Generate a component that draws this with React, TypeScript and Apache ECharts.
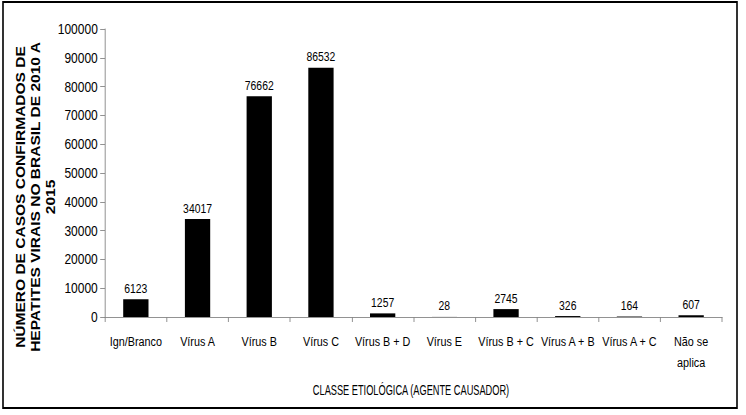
import React, { useEffect, useRef } from "react";
import * as echarts from "echarts";

const categories = [
  "Ign/Branco",
  "Vírus A",
  "Vírus B",
  "Vírus C",
  "Vírus B + D",
  "Vírus E",
  "Vírus B + C",
  "Vírus A + B",
  "Vírus A + C",
  "Não se\naplica",
];
const casos = [6123, 34017, 76662, 86532, 1257, 28, 2745, 326, 164, 607];
const yTitle = "NÚMERO DE CASOS CONFIRMADOS DE\nHEPATITES VIRAIS NO BRASIL DE 2010 A\n2015";
const xTitle = "CLASSE ETIOLÓGICA (AGENTE CAUSADOR)";

const FONT = "'Liberation Sans', Arial, sans-serif";
// horizontal condensing of the whole drawing (the reference uses a narrow face)
const SX = 0.8;
const W = 746 / SX;
const H = 415;

export default function App() {
  const ref = useRef<HTMLDivElement>(null);
  useEffect(() => {
    if (!ref.current) return;
    const chart = echarts.init(ref.current, null, { renderer: "svg", width: W, height: H });
    chart.setOption({
      animation: false,
      backgroundColor: "#ffffff",
      grid: { left: 105 / SX, right: 24 / SX, top: 29, bottom: 98, containLabel: false },
      xAxis: {
        type: "category",
        data: categories,
        axisLine: { show: true, lineStyle: { color: "#868686", width: 1 } },
        axisTick: { show: true, alignWithLabel: false, length: 5, lineStyle: { color: "#868686" } },
        axisLabel: {
          interval: 0,
          color: "#000",
          fontFamily: FONT,
          fontSize: 13.5,
          margin: 14,
          lineHeight: 21,
        },
      },
      yAxis: {
        type: "value",
        min: 0,
        max: 100000,
        interval: 10000,
        splitLine: { show: false },
        axisLine: { show: true, lineStyle: { color: "#868686", width: 1 } },
        axisTick: { show: true, length: 6, lineStyle: { color: "#868686" } },
        axisLabel: {
          color: "#000",
          fontFamily: FONT,
          fontSize: 15,
          margin: 9,
          formatter: (v: number) => String(v),
        },
      },
      series: [
        {
          type: "bar",
          data: casos,
          barWidth: "41%",
          itemStyle: { color: "#000000" },
          label: {
            show: true,
            position: "top",
            color: "#000",
            fontFamily: FONT,
            fontSize: 13,
            distance: 5,
          },
        },
      ],
      graphic: [
        {
          type: "rect",
          shape: { x: 3 / SX, y: 2, width: 734 / SX, height: 406 },
          style: { fill: "none", stroke: "#000", lineWidth: 2 },
          z: 10,
        },
        {
          type: "text",
          x: 35.5 / SX,
          y: 197,
          rotation: Math.PI / 2,
          scaleX: 0.97,
          style: {
            text: yTitle,
            fontFamily: FONT,
            fontWeight: "bold",
            fontSize: 16,
            lineHeight: 15.5 / SX,
            fill: "#000",
            align: "center",
            verticalAlign: "middle",
          },
        },
        {
          type: "text",
          x: 411 / SX,
          y: 390,
          scaleX: 0.77,
          style: {
            text: xTitle,
            fontFamily: FONT,
            fontSize: 15,
            fill: "#000",
            align: "center",
            verticalAlign: "middle",
          },
        },
      ],
    });
    return () => chart.dispose();
  }, []);
  return (
    <div
      style={{
        position: "fixed",
        left: 0,
        top: 0,
        width: 746,
        height: 415,
        overflow: "hidden",
        background: "#fff",
      }}
    >
      <div
        ref={ref}
        style={{
          width: W,
          height: H,
          transform: `scaleX(${SX})`,
          transformOrigin: "0 0",
        }}
      />
    </div>
  );
}
